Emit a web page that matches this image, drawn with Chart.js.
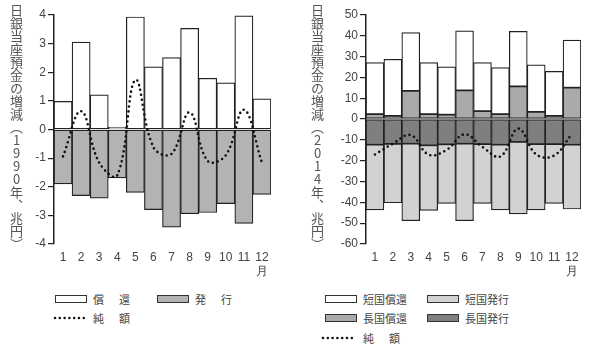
<!DOCTYPE html>
<html lang="ja">
<head>
<meta charset="utf-8">
<script src="https://cdn.jsdelivr.net/npm/chart.js@4/dist/chart.umd.min.js"></script>
<style>
  body { margin: 0; background: #fff; width: 600px; height: 352px; overflow: hidden; position: relative;
         font-family: "Noto Sans CJK JP", "Noto Sans", sans-serif; color: #444; }
  .wrap { position: absolute; top: 0; width: 300px; height: 280px; }
  .ytitle { position: absolute; top: 4px; writing-mode: vertical-rl; text-orientation: upright;
            font-size: 13px; line-height: 13px; color: #555; letter-spacing: 0; }
  .leg { position: absolute; font-size: 11px; line-height: 12px; color: #444; display: flex; align-items: center; }
  .box { display: inline-block; width: 30px; height: 6px; border: 1px solid #333; margin-right: 6px; }
  .leg svg { margin-right: 8px; }
  .sp { letter-spacing: 2px; }
</style>
</head>
<body>
<div class="wrap" style="left:0"><canvas id="left" width="300" height="280"></canvas></div>
<div class="wrap" style="left:300px"><canvas id="right" width="300" height="280"></canvas></div>
<div class="ytitle" style="left:10px">日銀当座預金の増減（1990年、兆円）</div>
<div class="ytitle" style="left:311px">日銀当座預金の増減（2014年、兆円）</div>

<div class="leg" style="left:55px;top:293px"><span class="box" style="background:#fff"></span><span class="sp">償　還</span></div>
<div class="leg" style="left:157px;top:293px"><span class="box" style="background:#b3b3b5"></span><span class="sp">発　行</span></div>
<div class="leg" style="left:53px;top:312px"><svg width="32" height="6"><line x1="2" y1="3" x2="31" y2="3" stroke="#111" stroke-width="2.6" stroke-linecap="round" stroke-dasharray="0 4.8"/></svg><span class="sp">純　額</span></div>

<div class="leg" style="left:325px;top:293px"><span class="box" style="background:#fff"></span>短国償還</div>
<div class="leg" style="left:427px;top:293px"><span class="box" style="background:#d2d2d2"></span>短国発行</div>
<div class="leg" style="left:325px;top:312px"><span class="box" style="background:#aaaaaa"></span>長国償還</div>
<div class="leg" style="left:427px;top:312px"><span class="box" style="background:#7f7f7f"></span>長国発行</div>
<div class="leg" style="left:321px;top:332px"><svg width="34" height="6"><line x1="2" y1="3" x2="31" y2="3" stroke="#111" stroke-width="2.6" stroke-linecap="round" stroke-dasharray="0 4.8"/></svg><span class="sp">純　額</span></div>

<script>
const months = ['1', '2', '3', '4', '5', '6', '7', '8', '9', '10', '11', ['12', '月']];

// 1990
const repay1990 = [0.98, 3.05, 1.21, 0.08, 3.93, 2.19, 2.51, 3.53, 1.79, 1.63, 3.97, 1.07];
const issue1990 = [-1.90, -2.31, -2.40, -1.69, -2.20, -2.80, -3.41, -2.94, -2.90, -2.59, -3.28, -2.27];
const net1990 = [-0.94, 0.64, -1.16, -1.6, 1.73, -0.62, -0.85, 0.6, -1.1, -0.9, 0.69, -1.16];
const ticks1990 = { min: -4, max: 4, step: 1 };

// 2014
const longRepay2014 = [2.4, 1.6, 13.6, 2.4, 2.1, 13.8, 3.8, 2.4, 15.7, 3.5, 1.6, 15.1];
const shortRepay2014 = [24.7, 27.1, 27.9, 24.7, 23.0, 28.6, 23.3, 22.3, 26.4, 22.6, 21.3, 22.8];
const longIssue2014 = [-12.3, -11.9, -11.8, -12.6, -12.1, -11.8, -12.0, -12.3, -11.0, -12.0, -12.0, -12.3];
const shortIssue2014 = [-31.3, -28.3, -37.0, -31.3, -28.4, -37.0, -28.5, -31.3, -34.5, -31.6, -28.5, -30.9];
const net2014 = [-17.0, -11.8, -7.7, -17.1, -14.8, -7.3, -13.4, -18.0, -4.6, -17.0, -17.5, -7.0];
const ticks2014 = { min: -60, max: 50, step: 10 };

const EDGE = '#222';
const TICK_FONT = { family: 'Liberation Sans', size: 12 };

function barSet(label, data, color) {
  return {
    type: 'bar', label, data, backgroundColor: color,
    borderColor: EDGE, borderWidth: 1.2, borderSkipped: false,
    barPercentage: 1, categoryPercentage: 1, order: 1,
  };
}

function netLine(data) {
  return {
    type: 'line', label: '純額', data, order: 0,
    borderColor: '#111', borderWidth: 2.6, borderDash: [0, 5], borderCapStyle: 'round',
    pointRadius: 0, tension: 0.4, fill: false,
  };
}

function makeChart(id, datasets, range, padLeft, padRight) {
  return new Chart(document.getElementById(id), {
    type: 'bar',
    data: { labels: months, datasets },
    options: {
      responsive: false,
      animation: false,
      layout: { padding: { left: padLeft, right: padRight, top: 15, bottom: 0 } },
      plugins: { legend: { display: false }, tooltip: { enabled: false } },
      scales: {
        x: {
          stacked: true,
          grid: { display: false, drawTicks: false },
          border: { display: false },
          ticks: { color: '#444', font: TICK_FONT, padding: 6, maxRotation: 0, autoSkip: false },
          afterFit: (s) => { s.height = 36; },
        },
        y: {
          stacked: true,
          min: range.min, max: range.max,
          border: { display: true, color: EDGE, width: 1.5 },
          grid: { drawOnChartArea: false, drawTicks: true, tickLength: 6, color: EDGE, lineWidth: 1.2 },
          ticks: { stepSize: range.step, color: '#444', font: TICK_FONT, padding: 2 },
          afterFit: (s) => { s.width = 30; },
        },
      },
    },
  });
}

makeChart('left', [
  barSet('償還', repay1990, '#ffffff'),
  barSet('発行', issue1990, '#b3b3b5'),
  netLine(net1990),
], ticks1990, 24, 29);

makeChart('right', [
  barSet('長国償還', longRepay2014, '#aaaaaa'),
  barSet('短国償還', shortRepay2014, '#ffffff'),
  barSet('長国発行', longIssue2014, '#7f7f7f'),
  barSet('短国発行', shortIssue2014, '#d2d2d2'),
  netLine(net2014),
], ticks2014, 36, 19);
</script>
</body>
</html>
